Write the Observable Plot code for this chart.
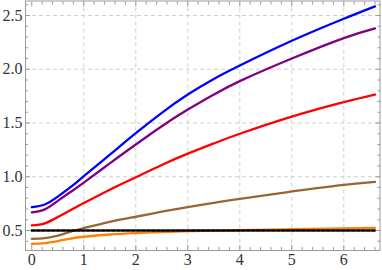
<!DOCTYPE html>
<html>
<head>
<meta charset="utf-8">
<script src="https://cdn.jsdelivr.net/npm/d3@7"></script>
<script src="https://cdn.jsdelivr.net/npm/@observablehq/plot@0.6"></script>
<style>
  html, body { margin: 0; padding: 0; background: #fff; }
</style>
</head>
<body>
<div id="chart"></div>
<script>
const xs       = [0, 0.25, 0.5, 0.75, 1, 1.5, 2, 2.5, 3, 3.5, 4, 5, 6, 6.6];
const seriesA  = [0.717, 0.742, 0.815, 0.905, 1.005, 1.205, 1.405, 1.595, 1.765, 1.91, 2.035, 2.265, 2.47, 2.585];
const seriesB  = [0.668, 0.697, 0.775, 0.860, 0.945, 1.125, 1.30, 1.47, 1.625, 1.765, 1.89, 2.10, 2.29, 2.38];
const seriesC  = [0.547, 0.567, 0.625, 0.690, 0.755, 0.880, 0.996, 1.11, 1.215, 1.31, 1.40, 1.56, 1.695, 1.765];
const seriesD  = [0.423, 0.429, 0.452, 0.490, 0.522, 0.580, 0.628, 0.675, 0.718, 0.757, 0.795, 0.863, 0.925, 0.953];
const seriesE  = [0.376, 0.382, 0.402, 0.425, 0.442, 0.463, 0.476, 0.486, 0.494, 0.499, 0.503, 0.512, 0.519, 0.525];
const refLevel = 0.5;
const refX = [0, 6.6];

const xMajor = [0, 1, 2, 3, 4, 5, 6];
const xGrid  = [1, 2, 3, 4, 5, 6];
const yMajor = [0.5, 1.0, 1.5, 2.0, 2.5];
const xMinor = [0.2, 0.4, 0.6, 0.8, 1.2, 1.4, 1.6, 1.8, 2.2, 2.4, 2.6, 2.8, 3.2, 3.4, 3.6, 3.8,
                4.2, 4.4, 4.6, 4.8, 5.2, 5.4, 5.6, 5.8, 6.2, 6.4, 6.6];
const yMinor = [0.4, 0.6, 0.7, 0.8, 0.9, 1.1, 1.2, 1.3, 1.4, 1.6, 1.7, 1.8, 1.9, 2.1, 2.2, 2.3, 2.4, 2.6];

const seriesList = [
  {name: "E", values: seriesE, color: "#ff8000"},
  {name: "D", values: seriesD, color: "#996633"},
  {name: "C", values: seriesC, color: "#ff0000"},
  {name: "B", values: seriesB, color: "#800080"},
  {name: "A", values: seriesA, color: "#0000ff"}
];
const rows = seriesList.flatMap(s => xs.map((x, i) => ({x, y: s.values[i], s: s.name})));
const refRows = refX.map(x => ({x, y: refLevel}));

const frameColor = "#9a9a9a";
const gridColor = "#cfcfcf";
const noText = () => "";
const serif = "Liberation Serif, DejaVu Serif, serif";

const chart = Plot.plot({
  width: 382,
  height: 270,
  marginLeft: 25,
  marginRight: 2.5,
  marginTop: 0.5,
  marginBottom: 20,
  style: {background: "#fff"},
  x: {domain: [-0.121, 6.696]},
  y: {domain: [0.314, 2.635]},
  color: {type: "ordinal", domain: seriesList.map(s => s.name), range: seriesList.map(s => s.color)},
  marks: [
    Plot.ruleX(xGrid, {stroke: gridColor, strokeDasharray: "4,3", strokeWidth: 1}),
    Plot.ruleY(yMajor, {stroke: gridColor, strokeDasharray: "4,3", strokeWidth: 1}),
    Plot.line(rows, {x: "x", y: "y", z: "s", stroke: "s", strokeWidth: 2.3, curve: "natural"}),
    Plot.line(refRows, {x: "x", y: "y", stroke: "#000", strokeWidth: 2.5, strokeDasharray: "3,2"}),
    Plot.frame({stroke: frameColor, strokeWidth: 1}),
    // major tick marks (inward) on all sides
    Plot.axisX({anchor: "bottom", ticks: xMajor, tickSize: -5, tickFormat: noText, stroke: frameColor, label: null}),
    Plot.axisX({anchor: "top", ticks: xMajor, tickSize: -5, tickFormat: noText, stroke: frameColor, label: null}),
    Plot.axisY({anchor: "left", ticks: yMajor, tickSize: -5, tickFormat: noText, stroke: frameColor, label: null}),
    Plot.axisY({anchor: "right", ticks: yMajor, tickSize: -5, tickFormat: noText, stroke: frameColor, label: null}),
    // minor tick marks
    Plot.axisX({anchor: "bottom", ticks: xMinor, tickSize: -3, tickFormat: noText, stroke: frameColor, label: null}),
    Plot.axisX({anchor: "top", ticks: xMinor, tickSize: -3, tickFormat: noText, stroke: frameColor, label: null}),
    Plot.axisY({anchor: "left", ticks: yMinor, tickSize: -3, tickFormat: noText, stroke: frameColor, label: null}),
    Plot.axisY({anchor: "right", ticks: yMinor, tickSize: -3, tickFormat: noText, stroke: frameColor, label: null}),
    // labels
    Plot.axisX({anchor: "bottom", ticks: xMajor, tickSize: 0, tickPadding: 3, tickFormat: d => String(d),
                label: null, fill: "#333", fontFamily: serif, fontSize: 16}),
    Plot.axisY({anchor: "left", ticks: yMajor, tickSize: 0, tickPadding: 3, tickFormat: d => d.toFixed(1),
                label: null, fill: "#333", fontFamily: serif, fontSize: 16})
  ]
});
document.getElementById("chart").appendChild(chart);
</script>
</body>
</html>
